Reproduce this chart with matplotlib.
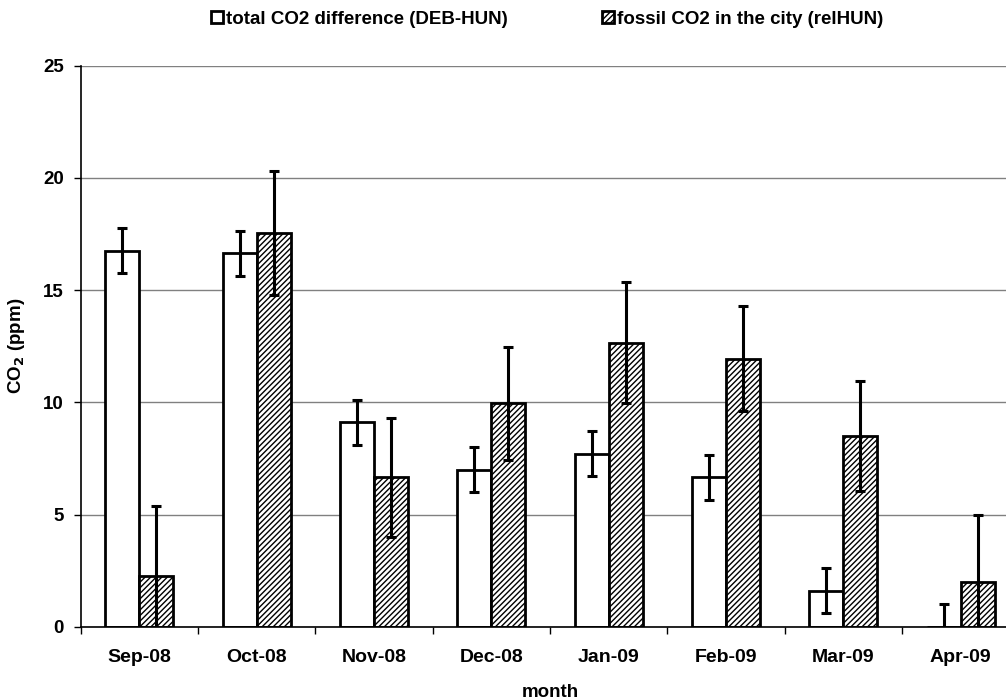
import matplotlib
matplotlib.use("Agg")
import matplotlib.pyplot as plt
import numpy as np

plt.rcParams['font.family'] = ['Liberation Sans', 'DejaVu Sans']
plt.rcParams['hatch.linewidth'] = 1.0

months = ['Sep-08', 'Oct-08', 'Nov-08', 'Dec-08', 'Jan-09', 'Feb-09', 'Mar-09', 'Apr-09']
total_diff = [16.75, 16.65, 9.1, 7.0, 7.7, 6.65, 1.6, 0.0]
total_err = [1.0, 1.0, 1.0, 1.0, 1.0, 1.0, 1.0, 1.0]
fossil = [2.25, 17.55, 6.65, 9.95, 12.65, 11.95, 8.5, 2.0]
fossil_err = [3.15, 2.75, 2.65, 2.5, 2.7, 2.35, 2.45, 3.0]

fig = plt.figure(figsize=(10.06, 7.0), dpi=100)
# plot area runs a bit past the right edge of the picture, like the original
ax = fig.add_axes([80.7/1006, 73.3/700, 938.5/1006, 561/700])

x = np.arange(len(months))
w = 0.29

ax.set_axisbelow(True)
ax.yaxis.grid(True, color='#808080', linewidth=1)

b1 = ax.bar(x - w/2, total_diff, w, color='white', edgecolor='black', linewidth=2,
            label='total CO2 difference (DEB-HUN)', zorder=2)
b2 = ax.bar(x + w/2, fossil, w, color='white', edgecolor='black', linewidth=2,
            hatch='//////', label='fossil CO2 in the city (relHUN)', zorder=2)
ax.errorbar(x - w/2, total_diff, yerr=total_err, fmt='none', ecolor='black',
            elinewidth=2.2, capsize=3.5, capthick=2.2, zorder=3)
ax.errorbar(x + w/2, fossil, yerr=fossil_err, fmt='none', ecolor='black',
            elinewidth=2.2, capsize=3.5, capthick=2.2, zorder=3)

ax.set_xlim(-0.5, len(months) - 0.5)
ax.set_ylim(0, 25)
ax.set_yticks([0, 5, 10, 15, 20, 25])
ax.set_xticks(x)
ax.set_xticklabels(months, fontsize=14, fontweight='bold')
ax.set_xticks(np.arange(len(months) + 1) - 0.5, minor=True)
ax.tick_params(axis='x', which='major', length=0, pad=16)
ax.tick_params(axis='x', which='minor', length=5, width=1, direction='out')
ax.tick_params(axis='y', length=5, width=1, direction='out', labelsize=13.5, pad=7)
for lab in ax.get_yticklabels():
    lab.set_fontweight('bold')

for s in ['top', 'right']:
    ax.spines[s].set_visible(False)
ax.spines['left'].set_linewidth(1.2)
ax.spines['bottom'].set_linewidth(1.2)

ax.set_ylabel('CO$_\\mathbf{2}$ (ppm)', fontsize=13.5, fontweight='bold', labelpad=12)
ax.set_xlabel('month', fontsize=13.5, fontweight='bold', labelpad=13)

leg = ax.legend(handles=[b1, b2], loc='upper center', bbox_to_anchor=(0.497, 1.128), ncol=2,
                frameon=False, prop={'weight': 'bold', 'size': 13.5},
                handlelength=0.65, handleheight=0.65, handletextpad=0.15, columnspacing=5.0)

fig.savefig('out.png', dpi=100)
